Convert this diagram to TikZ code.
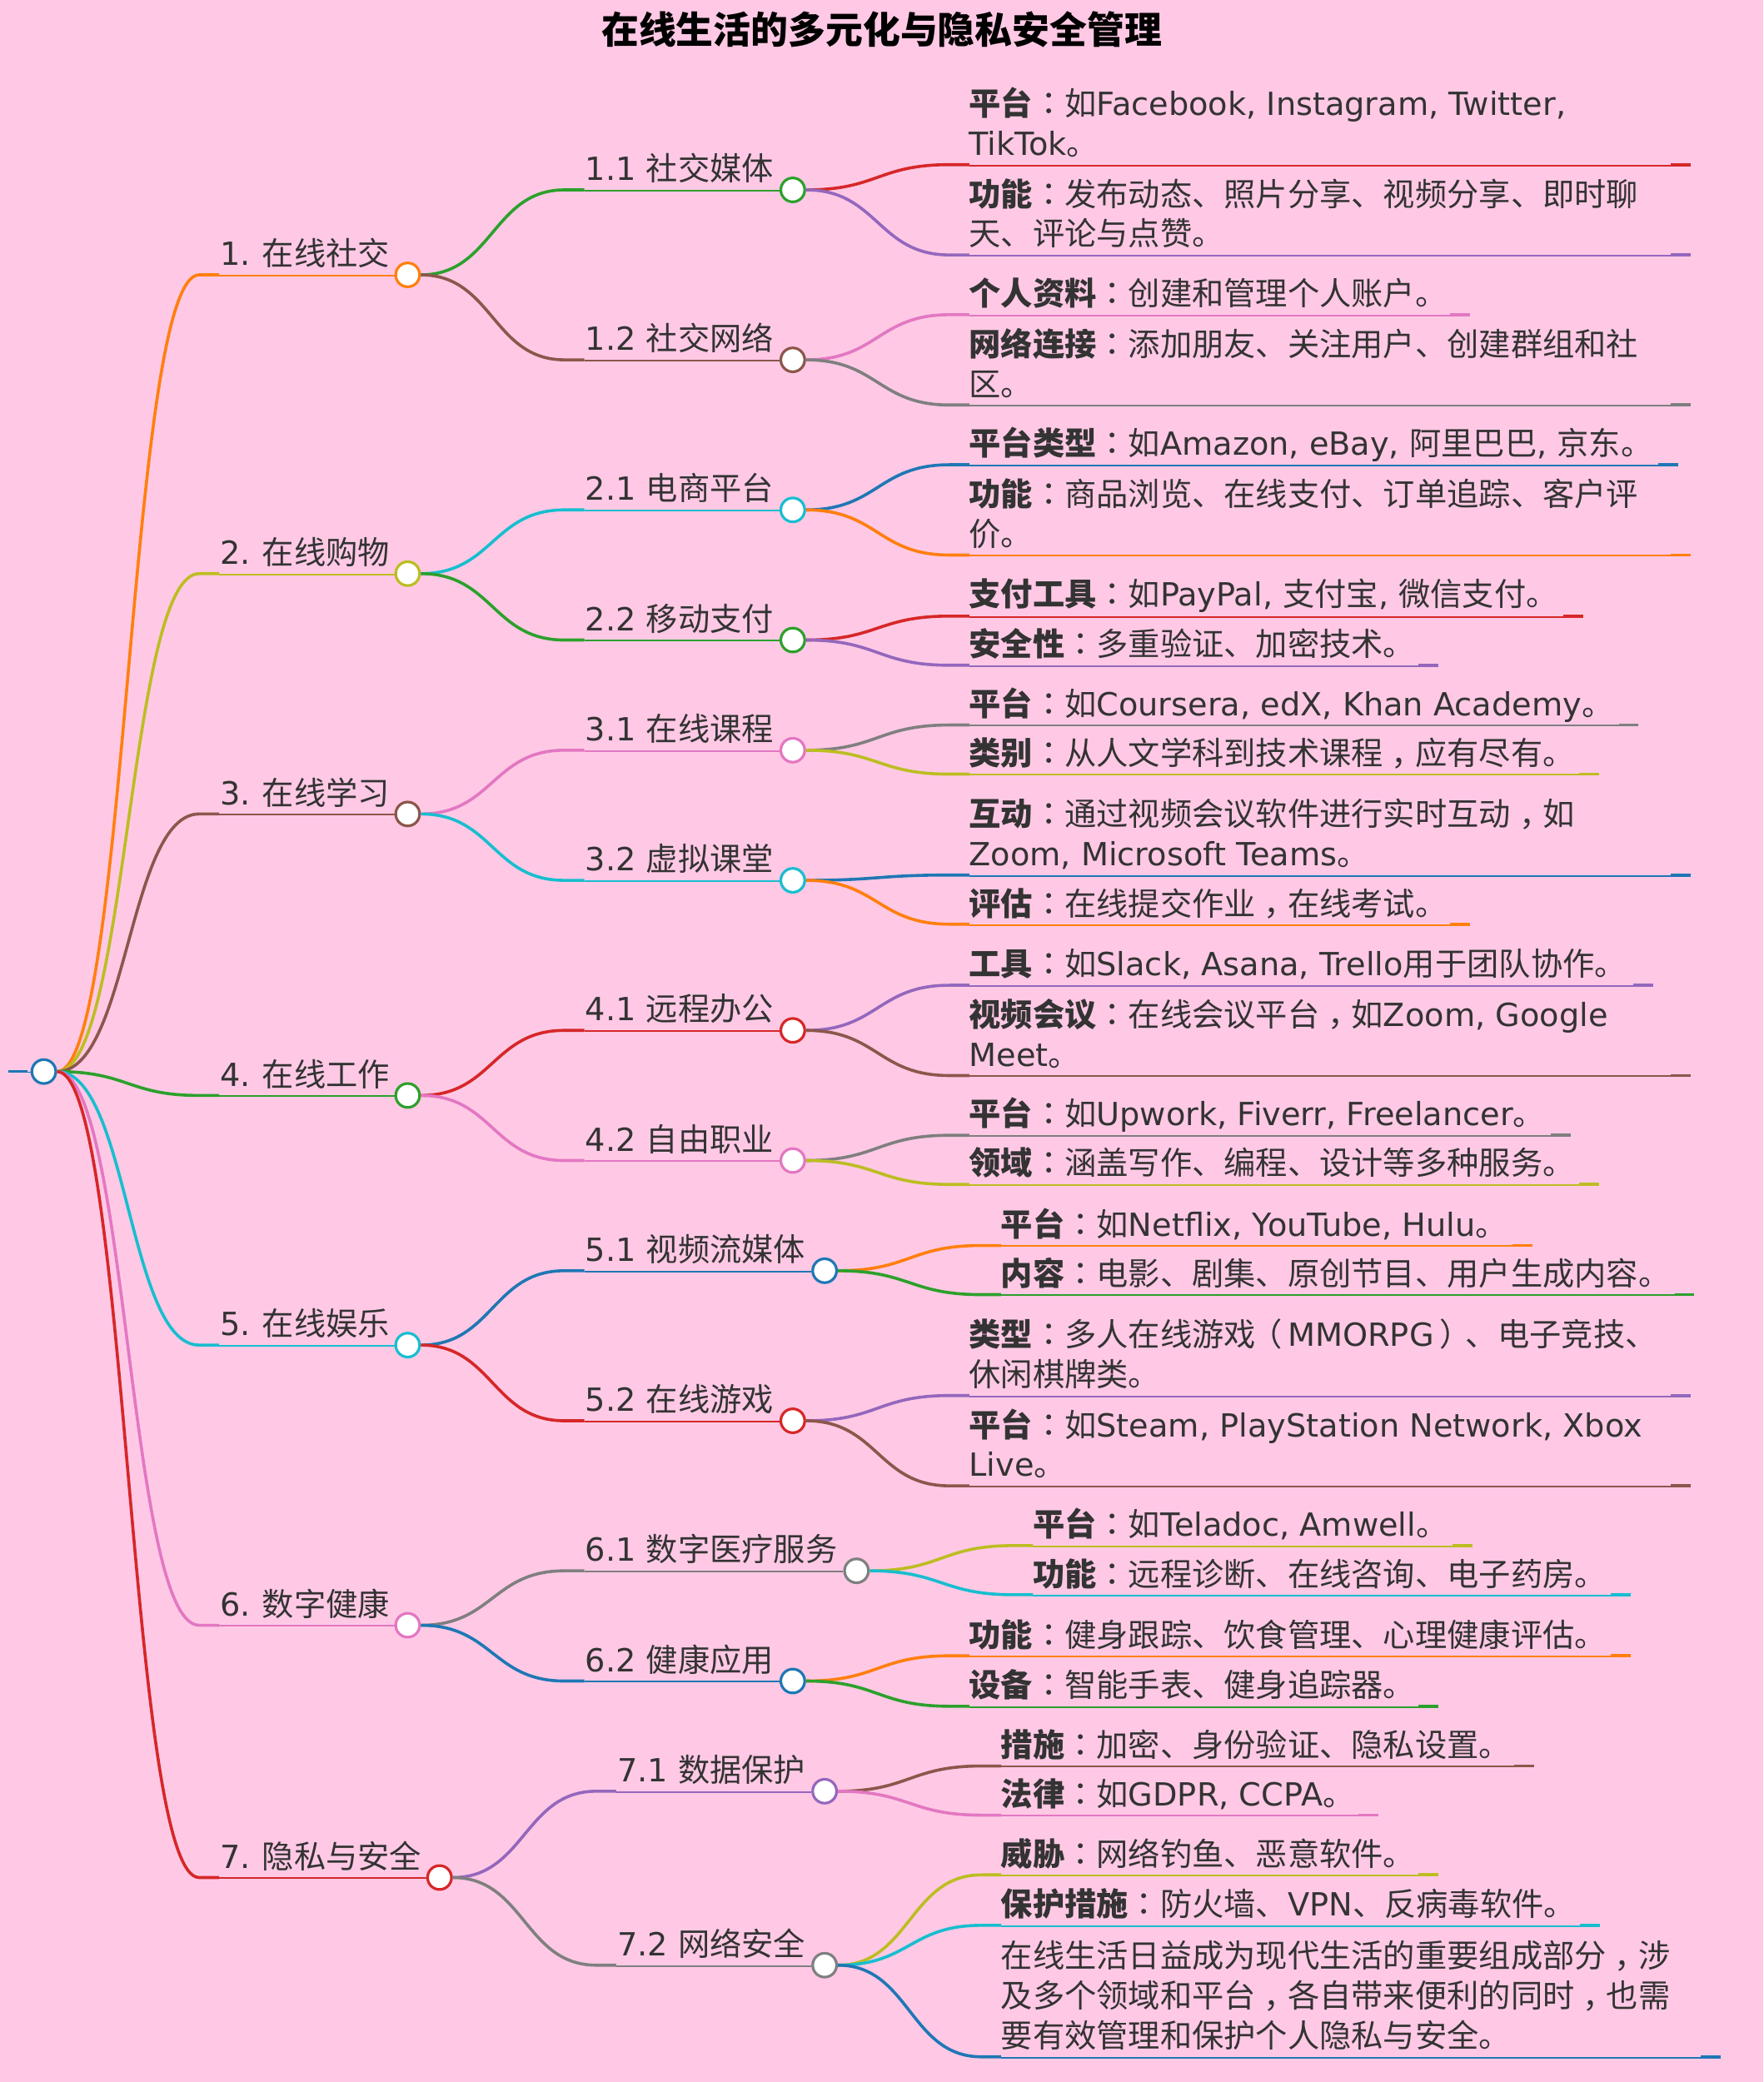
\documentclass[tikz,border=0pt]{standalone}
\usepackage{fontspec}
\setmainfont{Noto Sans CJK SC}
\newfontfamily\latfont{DejaVu Sans}
\newfontfamily\tcfont{Noto Sans CJK TC}
\usetikzlibrary{calc}

\newcommand{\en}[1]{{\latfont #1}}
\newcommand{\cln}{{\tcfont ：}}
\newcommand{\cma}{\raisebox{-0.3em}{\tcfont ，}}
\newcommand{\lpr}{\kern-0.18em （\kern0.18em}
\newcommand{\rpr}{\kern0.18em ）\kern-0.18em}

\definecolor{cblue}{HTML}{1F77B4}
\definecolor{corange}{HTML}{FF7F0E}
\definecolor{cgreen}{HTML}{2CA02C}
\definecolor{cred}{HTML}{D62728}
\definecolor{cpurple}{HTML}{9467BD}
\definecolor{cbrown}{HTML}{8C564B}
\definecolor{cpink}{HTML}{E377C2}
\definecolor{cgray}{HTML}{7F7F7F}
\definecolor{colive}{HTML}{BCBD22}
\definecolor{ccyan}{HTML}{17BECF}
\definecolor{bgpink}{HTML}{FFC9E5}
\definecolor{ink}{HTML}{333333}

\tikzset{
  dot/.style={circle,fill=white,line width=1.5pt,minimum size=13.5pt,inner sep=0pt},
  rule/.style={line width=0.9pt,transform canvas={yshift=-0.4pt}},
  stub/.style={line width=1.7pt},
  branch/.style={line width=1.7pt,to path={
    let \p1=(\tikztostart),\p2=(\tikztotarget),\n1={(\x1+\x2-11.25pt)/2} in
    .. controls (\n1,\y1) and (\n1,\y2) .. (\x2-11.25pt,\y2) -- (\tikztotarget)}},
  lbl/.style={anchor=south west,inner sep=0pt,align=left,text=ink,text depth=0pt,
    font=\fontsize{18}{22.5}\selectfont},
}

\begin{document}
\begin{tikzpicture}[x=0.75pt,y=-0.75pt]
\path [use as bounding box,fill=bgpink] (0,0) rectangle (1328,1568);

% Title
\draw (664,22) node (title) [font=\fontsize{21.1}{25}\selectfont\bfseries] {在线生活的多元化与隐私安全管理};

% Root
\draw (33,807) node (c0) [dot,draw=cblue] {};
\coordinate (r0) at (6,807);
\draw [rule,cblue] (r0) -- (c0);
\draw [stub,cblue] (r0) -- ++(15,0);

% Level 1
\draw (307,207) node (c1) [dot,draw=corange] {};
\draw (307,432) node (c2) [dot,draw=colive] {};
\draw (307,613) node (c3) [dot,draw=cbrown] {};
\draw (307,825) node (c4) [dot,draw=cgreen] {};
\draw (307,1013) node (c5) [dot,draw=ccyan] {};
\draw (307,1224) node (c6) [dot,draw=cpink] {};
\draw (331,1414) node (c7) [dot,draw=cred] {};

\coordinate (a1) at (165,207);
\coordinate (a2) at (165,432);
\coordinate (a3) at (165,613);
\coordinate (a4) at (165,825);
\coordinate (a5) at (165,1013);
\coordinate (a6) at (165,1224);
\coordinate (a7) at (165,1414);

\draw [branch,corange] (c0.east) to (a1);
\draw [branch,colive] (c0.east) to (a2);
\draw [branch,cbrown] (c0.east) to (a3);
\draw [branch,cgreen] (c0.east) to (a4);
\draw [branch,ccyan] (c0.east) to (a5);
\draw [branch,cpink] (c0.east) to (a6);
\draw [branch,cred] (c0.east) to (a7);

\draw [rule,corange] (a1) -- (c1);
\draw [rule,colive] (a2) -- (c2);
\draw [rule,cbrown] (a3) -- (c3);
\draw [rule,cgreen] (a4) -- (c4);
\draw [rule,ccyan] (a5) -- (c5);
\draw [rule,cpink] (a6) -- (c6);
\draw [rule,cred] (a7) -- (c7);

\draw (165.5,200.2) node (t1) [lbl] {\en{1.}\hspace{6.6pt}在线社交};
\draw (165.5,425.2) node (t2) [lbl] {\en{2.}\hspace{6.6pt}在线购物};
\draw (165.5,606.2) node (t3) [lbl] {\en{3.}\hspace{6.6pt}在线学习};
\draw (165.5,818.2) node (t4) [lbl] {\en{4.}\hspace{6.6pt}在线工作};
\draw (165.5,1006.2) node (t5) [lbl] {\en{5.}\hspace{6.6pt}在线娱乐};
\draw (165.5,1217.2) node (t6) [lbl] {\en{6.}\hspace{6.6pt}数字健康};
\draw (165.5,1407.2) node (t7) [lbl] {\en{7.}\hspace{6.6pt}隐私与安全};

% Level 2
\draw (597,143) node (c11) [dot,draw=cgreen] {};
\draw (597,271) node (c12) [dot,draw=cbrown] {};
\draw (597,384) node (c21) [dot,draw=ccyan] {};
\draw (597,482) node (c22) [dot,draw=cgreen] {};
\draw (597,565) node (c31) [dot,draw=cpink] {};
\draw (597,663) node (c32) [dot,draw=ccyan] {};
\draw (597,776) node (c41) [dot,draw=cred] {};
\draw (597,874) node (c42) [dot,draw=cpink] {};
\draw (621,957) node (c51) [dot,draw=cblue] {};
\draw (597,1070) node (c52) [dot,draw=cred] {};
\draw (645,1183) node (c61) [dot,draw=cgray] {};
\draw (597,1266) node (c62) [dot,draw=cblue] {};
\draw (621,1349) node (c71) [dot,draw=cpurple] {};
\draw (621,1480) node (c72) [dot,draw=cgray] {};

\coordinate (a11) at (440,143);
\coordinate (a12) at (440,271);
\coordinate (a21) at (440,384);
\coordinate (a22) at (440,482);
\coordinate (a31) at (440,565);
\coordinate (a32) at (440,663);
\coordinate (a41) at (440,776);
\coordinate (a42) at (440,874);
\coordinate (a51) at (440,957);
\coordinate (a52) at (440,1070);
\coordinate (a61) at (440,1183);
\coordinate (a62) at (440,1266);
\coordinate (a71) at (464,1349);
\coordinate (a72) at (464,1480);

\draw [branch,cgreen] (c1.east) to (a11);
\draw [branch,cbrown] (c1.east) to (a12);
\draw [branch,ccyan] (c2.east) to (a21);
\draw [branch,cgreen] (c2.east) to (a22);
\draw [branch,cpink] (c3.east) to (a31);
\draw [branch,ccyan] (c3.east) to (a32);
\draw [branch,cred] (c4.east) to (a41);
\draw [branch,cpink] (c4.east) to (a42);
\draw [branch,cblue] (c5.east) to (a51);
\draw [branch,cred] (c5.east) to (a52);
\draw [branch,cgray] (c6.east) to (a61);
\draw [branch,cblue] (c6.east) to (a62);
\draw [branch,cpurple] (c7.east) to (a71);
\draw [branch,cgray] (c7.east) to (a72);

\draw [rule,cgreen] (a11) -- (c11);
\draw [rule,cbrown] (a12) -- (c12);
\draw [rule,ccyan] (a21) -- (c21);
\draw [rule,cgreen] (a22) -- (c22);
\draw [rule,cpink] (a31) -- (c31);
\draw [rule,ccyan] (a32) -- (c32);
\draw [rule,cred] (a41) -- (c41);
\draw [rule,cpink] (a42) -- (c42);
\draw [rule,cblue] (a51) -- (c51);
\draw [rule,cred] (a52) -- (c52);
\draw [rule,cgray] (a61) -- (c61);
\draw [rule,cblue] (a62) -- (c62);
\draw [rule,cpurple] (a71) -- (c71);
\draw [rule,cgray] (a72) -- (c72);

\draw (440.5,136.2) node (t11) [lbl] {\en{1.1 }社交媒体};
\draw (440.5,264.2) node (t12) [lbl] {\en{1.2 }社交网络};
\draw (440.5,377.2) node (t21) [lbl] {\en{2.1 }电商平台};
\draw (440.5,475.2) node (t22) [lbl] {\en{2.2 }移动支付};
\draw (440.5,558.2) node (t31) [lbl] {\en{3.1 }在线课程};
\draw (440.5,656.2) node (t32) [lbl] {\en{3.2 }虚拟课堂};
\draw (440.5,769.2) node (t41) [lbl] {\en{4.1 }远程办公};
\draw (440.5,867.2) node (t42) [lbl] {\en{4.2 }自由职业};
\draw (440.5,950.2) node (t51) [lbl] {\en{5.1 }视频流媒体};
\draw (440.5,1063.2) node (t52) [lbl] {\en{5.2 }在线游戏};
\draw (440.5,1176.2) node (t61) [lbl] {\en{6.1 }数字医疗服务};
\draw (440.5,1259.2) node (t62) [lbl] {\en{6.2 }健康应用};
\draw (464.5,1342.2) node (t71) [lbl] {\en{7.1 }数据保护};
\draw (464.5,1473.2) node (t72) [lbl] {\en{7.2 }网络安全};

% Level 3
\draw [rule,cred] (730,124) coordinate (a111) -- (1273,124) coordinate (b111);
\draw [stub,cred] (b111) -- ++(-15,0);
\draw [branch,cred] (c11.east) to (a111);
\draw (729.5,117.2) node (t111) [lbl] {\textbf{平台}\cln 如\en{Facebook, Instagram, Twitter,}\\\en{TikTok}。};

\draw [rule,cpurple] (730,192) coordinate (a112) -- (1273,192) coordinate (b112);
\draw [stub,cpurple] (b112) -- ++(-15,0);
\draw [branch,cpurple] (c11.east) to (a112);
\draw (729.5,185.2) node (t112) [lbl] {\textbf{功能}\cln 发布动态、照片分享、视频分享、即时聊\\天、评论与点赞。};

\draw [rule,cpink] (730,237) coordinate (a121) -- (1107,237) coordinate (b121);
\draw [stub,cpink] (b121) -- ++(-15,0);
\draw [branch,cpink] (c12.east) to (a121);
\draw (729.5,230.2) node (t121) [lbl] {\textbf{个人资料}\cln 创建和管理个人账户。};

\draw [rule,cgray] (730,305) coordinate (a122) -- (1273,305) coordinate (b122);
\draw [stub,cgray] (b122) -- ++(-15,0);
\draw [branch,cgray] (c12.east) to (a122);
\draw (729.5,298.2) node (t122) [lbl] {\textbf{网络连接}\cln 添加朋友、关注用户、创建群组和社\\区。};

\draw [rule,cblue] (730,350) coordinate (a211) -- (1264,350) coordinate (b211);
\draw [stub,cblue] (b211) -- ++(-15,0);
\draw [branch,cblue] (c21.east) to (a211);
\draw (729.5,343.2) node (t211) [lbl] {\textbf{平台类型}\cln 如\en{Amazon, eBay, }阿里巴巴\en{, }京东。};

\draw [rule,corange] (730,418) coordinate (a212) -- (1273,418) coordinate (b212);
\draw [stub,corange] (b212) -- ++(-15,0);
\draw [branch,corange] (c21.east) to (a212);
\draw (729.5,411.2) node (t212) [lbl] {\textbf{功能}\cln 商品浏览、在线支付、订单追踪、客户评\\价。};

\draw [rule,cred] (730,464) coordinate (a221) -- (1192,464) coordinate (b221);
\draw [stub,cred] (b221) -- ++(-15,0);
\draw [branch,cred] (c22.east) to (a221);
\draw (729.5,456.8) node (t221) [lbl] {\textbf{支付工具}\cln 如\en{PayPal, }支付宝\en{, }微信支付。};

\draw [rule,cpurple] (730,501) coordinate (a222) -- (1083,501) coordinate (b222);
\draw [stub,cpurple] (b222) -- ++(-15,0);
\draw [branch,cpurple] (c22.east) to (a222);
\draw (729.5,494.2) node (t222) [lbl] {\textbf{安全性}\cln 多重验证、加密技术。};

\draw [rule,cgray] (730,546) coordinate (a311) -- (1234,546) coordinate (b311);
\draw [stub,cgray] (b311) -- ++(-15,0);
\draw [branch,cgray] (c31.east) to (a311);
\draw (729.5,539.2) node (t311) [lbl] {\textbf{平台}\cln 如\en{Coursera, edX, Khan Academy}。};

\draw [rule,colive] (730,583) coordinate (a312) -- (1204,583) coordinate (b312);
\draw [stub,colive] (b312) -- ++(-15,0);
\draw [branch,colive] (c31.east) to (a312);
\draw (729.5,576.6) node (t312) [lbl] {\textbf{类别}\cln 从人文学科到技术课程\cma 应有尽有。};

\draw [rule,cblue] (730,659) coordinate (a321) -- (1273,659) coordinate (b321);
\draw [stub,cblue] (b321) -- ++(-15,0);
\draw [branch,cblue] (c32.east) to (a321);
\draw (729.5,652.2) node (t321) [lbl] {\textbf{互动}\cln 通过视频会议软件进行实时互动\cma 如\\\en{Zoom, Microsoft Teams}。};

\draw [rule,corange] (730,696) coordinate (a322) -- (1107,696) coordinate (b322);
\draw [stub,corange] (b322) -- ++(-15,0);
\draw [branch,corange] (c32.east) to (a322);
\draw (729.5,689.6) node (t322) [lbl] {\textbf{评估}\cln 在线提交作业\cma 在线考试。};

\draw [rule,cpurple] (730,742) coordinate (a411) -- (1245,742) coordinate (b411);
\draw [stub,cpurple] (b411) -- ++(-15,0);
\draw [branch,cpurple] (c41.east) to (a411);
\draw (729.5,735.2) node (t411) [lbl] {\textbf{工具}\cln 如\en{Slack, Asana, Trello}用于团队协作。};

\draw [rule,cbrown] (730,810) coordinate (a412) -- (1273,810) coordinate (b412);
\draw [stub,cbrown] (b412) -- ++(-15,0);
\draw [branch,cbrown] (c41.east) to (a412);
\draw (729.5,803.2) node (t412) [lbl] {\textbf{视频会议}\cln 在线会议平台\cma 如\en{Zoom, Google}\\\en{Meet}。};

\draw [rule,cgray] (730,855) coordinate (a421) -- (1183,855) coordinate (b421);
\draw [stub,cgray] (b421) -- ++(-15,0);
\draw [branch,cgray] (c42.east) to (a421);
\draw (729.5,848.2) node (t421) [lbl] {\textbf{平台}\cln 如\en{Upwork, Fiverr, Freelancer}。};

\draw [rule,colive] (730,892) coordinate (a422) -- (1204,892) coordinate (b422);
\draw [stub,colive] (b422) -- ++(-15,0);
\draw [branch,colive] (c42.east) to (a422);
\draw (729.5,885.2) node (t422) [lbl] {\textbf{领域}\cln 涵盖写作、编程、设计等多种服务。};

\draw [rule,corange] (754,938) coordinate (a511) -- (1154,938) coordinate (b511);
\draw [stub,corange] (b511) -- ++(-15,0);
\draw [branch,corange] (c51.east) to (a511);
\draw (753.5,931.2) node (t511) [lbl] {\textbf{平台}\cln 如\en{Netflix, YouTube, Hulu}。};

\draw [rule,cgreen] (754,975) coordinate (a512) -- (1276,975) coordinate (b512);
\draw [stub,cgreen] (b512) -- ++(-15,0);
\draw [branch,cgreen] (c51.east) to (a512);
\draw (753.5,968.6) node (t512) [lbl] {\textbf{内容}\cln 电影、剧集、原创节目、用户生成内容。};

\draw [rule,cpurple] (730,1051) coordinate (a521) -- (1273,1051) coordinate (b521);
\draw [stub,cpurple] (b521) -- ++(-15,0);
\draw [branch,cpurple] (c52.east) to (a521);
\draw (729.5,1044.2) node (t521) [lbl] {\textbf{类型}\cln 多人在线游戏\lpr\en{MMORPG}\rpr、电子竞技、\\休闲棋牌类。};

\draw [rule,cbrown] (730,1119) coordinate (a522) -- (1273,1119) coordinate (b522);
\draw [stub,cbrown] (b522) -- ++(-15,0);
\draw [branch,cbrown] (c52.east) to (a522);
\draw (729.5,1112.2) node (t522) [lbl] {\textbf{平台}\cln 如\en{Steam, PlayStation Network, Xbox}\\\en{Live}。};

\draw [rule,colive] (778,1164) coordinate (a611) -- (1109,1164) coordinate (b611);
\draw [stub,colive] (b611) -- ++(-15,0);
\draw [branch,colive] (c61.east) to (a611);
\draw (777.5,1157.2) node (t611) [lbl] {\textbf{平台}\cln 如\en{Teladoc, Amwell}。};

\draw [rule,ccyan] (778,1201) coordinate (a612) -- (1228,1201) coordinate (b612);
\draw [stub,ccyan] (b612) -- ++(-15,0);
\draw [branch,ccyan] (c61.east) to (a612);
\draw (777.5,1194.6) node (t612) [lbl] {\textbf{功能}\cln 远程诊断、在线咨询、电子药房。};

\draw [rule,corange] (730,1247) coordinate (a621) -- (1228,1247) coordinate (b621);
\draw [stub,corange] (b621) -- ++(-15,0);
\draw [branch,corange] (c62.east) to (a621);
\draw (729.5,1240.6) node (t621) [lbl] {\textbf{功能}\cln 健身跟踪、饮食管理、心理健康评估。};

\draw [rule,cgreen] (730,1285) coordinate (a622) -- (1083,1285) coordinate (b622);
\draw [stub,cgreen] (b622) -- ++(-15,0);
\draw [branch,cgreen] (c62.east) to (a622);
\draw (729.5,1278.2) node (t622) [lbl] {\textbf{设备}\cln 智能手表、健身追踪器。};

\draw [rule,cbrown] (754,1330) coordinate (a711) -- (1155,1330) coordinate (b711);
\draw [stub,cbrown] (b711) -- ++(-15,0);
\draw [branch,cbrown] (c71.east) to (a711);
\draw (753.5,1323.2) node (t711) [lbl] {\textbf{措施}\cln 加密、身份验证、隐私设置。};

\draw [rule,cpink] (754,1367) coordinate (a712) -- (1038,1367) coordinate (b712);
\draw [stub,cpink] (b712) -- ++(-15,0);
\draw [branch,cpink] (c71.east) to (a712);
\draw (753.5,1360.6) node (t712) [lbl] {\textbf{法律}\cln 如\en{GDPR, CCPA}。};

\draw [rule,colive] (754,1412) coordinate (a721) -- (1083,1412) coordinate (b721);
\draw [stub,colive] (b721) -- ++(-15,0);
\draw [branch,colive] (c72.east) to (a721);
\draw (753.5,1405.6) node (t721) [lbl] {\textbf{威胁}\cln 网络钓鱼、恶意软件。};

\draw [rule,ccyan] (754,1450) coordinate (a722) -- (1205,1450) coordinate (b722);
\draw [stub,ccyan] (b722) -- ++(-15,0);
\draw [branch,ccyan] (c72.east) to (a722);
\draw (753.5,1443.2) node (t722) [lbl] {\textbf{保护措施}\cln 防火墙、\en{VPN}、反病毒软件。};

\draw [rule,cblue] (754,1549) coordinate (a723) -- (1296,1549) coordinate (b723);
\draw [stub,cblue] (b723) -- ++(-15,0);
\draw [branch,cblue] (c72.east) to (a723);
\draw (753.5,1542.2) node (t723) [lbl] {在线生活日益成为现代生活的重要组成部分\cma 涉\\及多个领域和平台\cma 各自带来便利的同时\cma 也需\\要有效管理和保护个人隐私与安全。};

\end{tikzpicture}
\end{document}
